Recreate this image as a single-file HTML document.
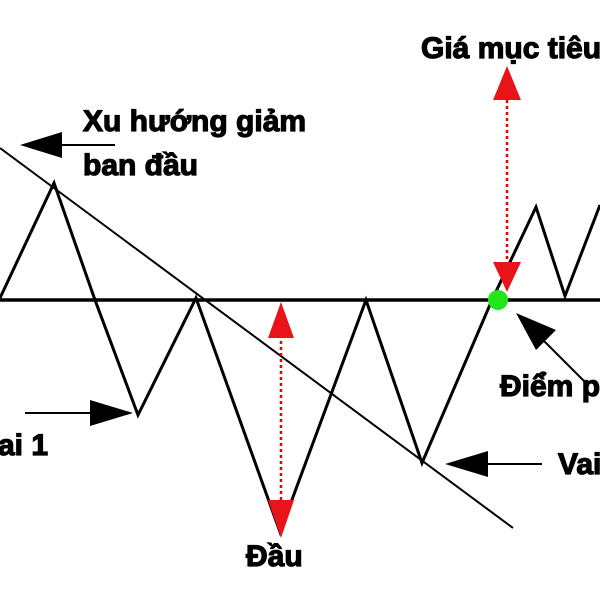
<!DOCTYPE html>
<html><head><meta charset="utf-8"><style>
body{margin:0;background:#fff;width:600px;height:600px;overflow:hidden}
text{font-family:"Liberation Sans",sans-serif;font-weight:bold;fill:#000;stroke:#000;stroke-width:1.2}
</style></head><body>
<svg width="600" height="600" viewBox="0 0 600 600" xmlns="http://www.w3.org/2000/svg">
<line x1="0" y1="300" x2="600" y2="300" stroke="#000" stroke-width="3.5"/>
<polyline points="0,298 54,183 95,300 138,415 196,298 280,532 366,300 422,463 492,300 536,207 565,296 600,205" fill="none" stroke="#000" stroke-width="3"/>
<line x1="0" y1="148" x2="513" y2="528" stroke="#000" stroke-width="2"/>
<circle cx="498" cy="300" r="10" fill="#22e51c"/>
<line x1="281" y1="335" x2="281" y2="505" stroke="#e00" stroke-width="2.5" stroke-dasharray="3,3"/>
<polygon points="281,302 268,338 294,338" fill="#e8141a"/>
<polygon points="268,500 294,500 281,538" fill="#e8141a"/>
<line x1="507" y1="100" x2="507" y2="262" stroke="#e00" stroke-width="2.5" stroke-dasharray="3,3"/>
<polygon points="507,66 493,100 521,100" fill="#e8141a"/>
<polygon points="493,262 521,262 507,292" fill="#e8141a"/>
<line x1="60" y1="145" x2="115" y2="145" stroke="#000" stroke-width="2"/>
<polygon points="20,145 62,132 62,158" fill="#000"/>
<line x1="25" y1="413" x2="95" y2="413" stroke="#000" stroke-width="2"/>
<polygon points="133,413 90,400 90,426" fill="#000"/>
<line x1="480" y1="464" x2="542" y2="464" stroke="#000" stroke-width="2"/>
<polygon points="445,464 488,451 488,477" fill="#000"/>
<line x1="585" y1="382" x2="540" y2="337" stroke="#000" stroke-width="2"/>
<polygon points="516,313 556,330 536,350" fill="#000"/>
<text x="421" y="58" font-size="30">Giá mục tiêu</text>
<text x="83" y="131" font-size="30">Xu hướng giảm</text>
<text x="83" y="175" font-size="30">ban đầu</text>
<text x="-2" y="455" font-size="30">ai 1</text>
<text x="246" y="566" font-size="30">Đầu</text>
<text x="500" y="396" font-size="30">Điểm phá vỡ</text>
<text x="558" y="474" font-size="30">Vai 2</text>
</svg>
</body></html>
